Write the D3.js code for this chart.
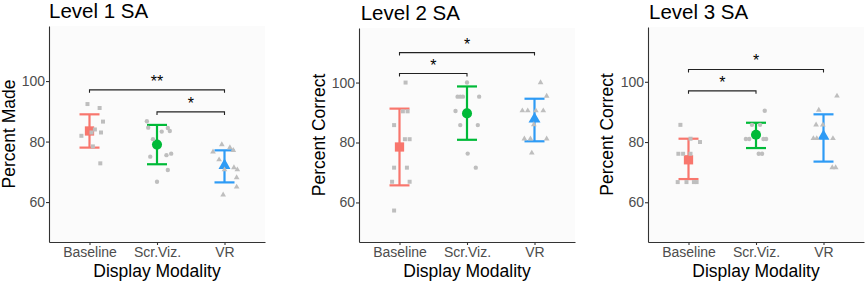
<!DOCTYPE html>
<html>
<head>
<meta charset="utf-8">
<script src="https://cdn.jsdelivr.net/npm/d3@7"></script>
<style>
  body { margin: 0; background: #fff; }
  svg { display: block; font-family: "Liberation Sans", Arial, sans-serif; }
</style>
</head>
<body>
<script>
// les catégories et les couleurs (ggplot par défaut)
var categories = ["Baseline", "Scr.Viz.", "VR"];
var colors = ["#F8766D", "#00BA38", "#2E9BF5"];
var titles = ["Level 1 SA", "Level 2 SA", "Level 3 SA"];
var yTitles = ["Percent Made", "Percent Correct", "Percent Correct"];
var xTitle = "Display Modality";
var yTicks = [60, 80, 100];
var yDomain = [46.8, 118.2];

// moyennes et barres d'erreur, une ligne par panneau
var means = [[83.5, 79.0, 72.1], [78.5, 89.7, 87.8], [74.1, 82.4, 81.9]];
var errLow = [[78.0, 72.5, 66.5], [65.7, 80.9, 80.4], [67.7, 78.0, 73.5]];
var errHigh = [[89.0, 85.5, 77.1], [91.3, 98.7, 94.6], [81.1, 86.4, 89.2]];

// points individuels (valeurs) + jitter (en fraction de catégorie)
var level1Values = [
  [92.4, 91.1, 86.6, 81.9, 84.0, 83.0, 83.0, 78.4, 72.8],
  [86.7, 84.6, 83.3, 84.5, 83.5, 80.8, 76.0, 75.5, 75.0, 70.6, 66.7],
  [79.0, 78.0, 76.6, 77.1, 74.0, 71.4, 70.7, 70.7, 68.1, 65.0, 62.4]
];
var level1Jitter = [
  [-0.03, 0.15, 0.20, -0.12, 0.08, 0.03, 0.17, 0.05, 0.16],
  [-0.15, -0.13, 0.07, 0.16, 0.19, -0.06, 0.21, 0.14, -0.10, 0.16, 0],
  [-0.04, 0.08, -0.17, 0.13, -0.08, 0.14, 0.19, 0, 0.18, 0.18, -0.02]
];
var level2Values = [
  [100, 90.4, 90.4, 85.8, 81.1, 81.1, 71.6, 71.6, 66.9, 66.9, 57.3],
  [100, 95.3, 95.3, 95.3, 95.3, 90.5, 85.8, 85.8, 76.3, 71.6],
  [100, 95.5, 90.6, 90.6, 90.6, 90.6, 86.0, 81.2, 81.2, 81.2, 76.5]
];
var level2Jitter = [
  [0.09, 0.05, 0.12, -0.08, 0.08, 0.15, -0.08, 0.11, -0.11, 0.15, -0.08],
  [0, -0.14, -0.10, -0.06, 0.18, -0.17, -0.10, 0.16, 0.01, 0.13],
  [0.09, 0.18, -0.18, -0.10, 0.02, 0.13, -0.01, -0.15, -0.06, 0.18, -0.04]
];
var level3Values = [
  [85.7, 81.1, 80.0, 76.1, 76.1, 76.1, 66.7, 66.7, 66.7, 66.7],
  [90.4, 85.7, 85.7, 81.0, 81.0, 81.0, 81.0, 76.1, 76.1],
  [95.3, 90.6, 85.7, 85.7, 81.2, 81.2, 81.2, 71.5, 71.5]
];
var level3Jitter = [
  [-0.12, 0.03, 0.17, -0.15, -0.08, 0.03, -0.16, -0.03, 0.08, 0.12],
  [0.13, -0.06, 0.06, -0.15, -0.10, 0.11, 0.15, 0.04, 0.09],
  [0.20, -0.07, -0.11, -0.01, -0.15, -0.10, 0.14, 0.13, 0.18]
];
var pointValues = [level1Values, level2Values, level3Values];
var pointJitter = [level1Jitter, level2Jitter, level3Jitter];

// comparaisons significatives
var sigFrom = [["Baseline", "Scr.Viz."], ["Baseline", "Baseline"], ["Baseline", "Baseline"]];
var sigTo = [["VR", "VR"], ["VR", "Scr.Viz."], ["VR", "Scr.Viz."]];
var sigY = [[97.1, 89.8], [110.0, 103.0], [104.1, 97.0]];
var sigLabel = [["**", "*"], ["*", "*"], ["*", "*"]];

// mise en page de chaque panneau (pixels)
var layout = [
  { axisX: 49, right: 265, top: 26, titleX: 49, titleY: 18, yTitleX: 14.7 },
  { axisX: 359, right: 575, top: 28, titleX: 360.7, titleY: 19.5, yTitleX: 325 },
  { axisX: 648, right: 864, top: 27, titleX: 649, titleY: 18.5, yTitleX: 612.5 }
];
var bottom = 242;

var meanSymbols = [d3.symbolSquare, d3.symbolCircle, d3.symbolTriangle];
var meanSizes = [86, 80, 62];
var pointSizes = [16, 15, 14];

var svg = d3.select("body")
  .append("svg")
  .attr("width", 865)
  .attr("height", 282);

layout.forEach(function(lay, p) {
  var g = svg.append("g");

  var x = d3.scalePoint().domain(categories).range([lay.axisX, lay.right]).padding(0.6);
  var y = d3.scaleLinear().domain(yDomain).range([bottom, lay.top]);
  var step = x.step();

  // fond du panneau
  g.append("rect")
    .attr("x", lay.axisX).attr("y", lay.top)
    .attr("width", lay.right - lay.axisX).attr("height", bottom - lay.top)
    .attr("fill", "#FBFBFB");

  // axes
  var yAxis = d3.axisLeft(y).tickValues(yTicks).tickSize(3).tickSizeOuter(0).tickPadding(1);
  var xAxis = d3.axisBottom(x).tickSize(3).tickSizeOuter(0).tickPadding(2);

  var yg = g.append("g").attr("transform", "translate(" + lay.axisX + ",0)").call(yAxis);
  var xg = g.append("g").attr("transform", "translate(0," + bottom + ")").call(xAxis);
  [yg, xg].forEach(function(a) {
    a.select(".domain").attr("stroke", "#333").attr("stroke-width", 1.1);
    a.selectAll(".tick line").attr("stroke", "#333").attr("stroke-width", 1.1);
    a.selectAll(".tick text").attr("fill", "#4D4D4D").attr("font-size", 14)
      .attr("font-family", "Liberation Sans, Arial, sans-serif");
  });

  // titres
  g.append("text")
    .attr("x", lay.titleX).attr("y", lay.titleY)
    .attr("font-size", 20.5).attr("font-weight", "normal").attr("fill", "#000")
    .text(titles[p]);
  g.append("text")
    .attr("transform", "translate(" + lay.yTitleX + "," + (lay.top + bottom) / 2 + ") rotate(-90)")
    .attr("text-anchor", "middle").attr("font-size", 17.5).attr("fill", "#000")
    .text(yTitles[p]);
  g.append("text")
    .attr("x", (lay.axisX + lay.right) / 2).attr("y", 276.5)
    .attr("text-anchor", "middle").attr("font-size", 17.5).attr("fill", "#000")
    .text(xTitle);

  // barres d'erreur
  categories.forEach(function(c, i) {
    var cx = x(c);
    var eg = g.append("g").attr("stroke", colors[i]).attr("stroke-width", 2.2).attr("fill", "none");
    eg.append("line").attr("x1", cx).attr("x2", cx).attr("y1", y(errLow[p][i])).attr("y2", y(errHigh[p][i]));
    eg.append("line").attr("x1", cx - 10).attr("x2", cx + 10).attr("y1", y(errLow[p][i])).attr("y2", y(errLow[p][i]));
    eg.append("line").attr("x1", cx - 10).attr("x2", cx + 10).attr("y1", y(errHigh[p][i])).attr("y2", y(errHigh[p][i]));

    g.append("path")
      .attr("d", d3.symbol().type(meanSymbols[i]).size(meanSizes[i])())
      .attr("transform", "translate(" + cx + "," + y(means[p][i]) + ")")
      .attr("fill", colors[i]);
  });

  // points individuels
  categories.forEach(function(c, i) {
    var vals = pointValues[p][i];
    var jit = pointJitter[p][i];
    g.selectAll(null)
      .data(vals)
      .enter()
      .append("path")
      .attr("d", d3.symbol().type(meanSymbols[i]).size(pointSizes[i])())
      .attr("transform", function(d, k) {
        return "translate(" + (x(c) + jit[k] * step) + "," + y(d) + ")";
      })
      .attr("fill", "#BEBEBE");
  });

  // crochets de significativité
  sigY[p].forEach(function(v, k) {
    var x1 = x(sigFrom[p][k]), x2 = x(sigTo[p][k]), yy = y(v);
    g.append("path")
      .attr("d", "M" + x1 + "," + (yy + 3) + "V" + yy + "H" + x2 + "V" + (yy + 3))
      .attr("fill", "none").attr("stroke", "#222").attr("stroke-width", 1.1);
    g.append("text")
      .attr("x", (x1 + x2) / 2).attr("y", yy - 3)
      .attr("text-anchor", "middle").attr("font-size", 16).attr("fill", "#000")
      .text(sigLabel[p][k]);
  });
});
</script>
</body>
</html>
